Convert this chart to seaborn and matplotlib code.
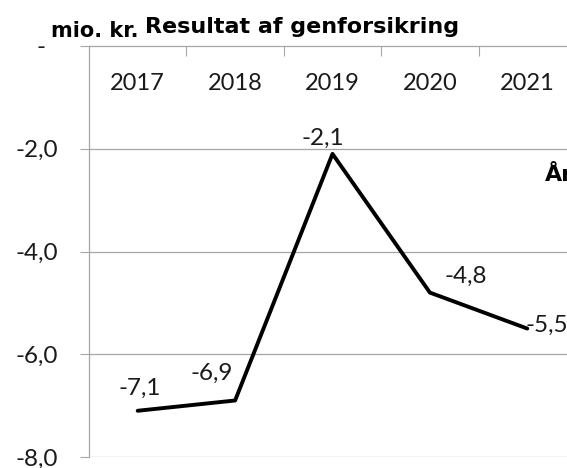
import matplotlib
matplotlib.use("Agg")
import matplotlib.pyplot as plt
import matplotlib.transforms as mtransforms
import seaborn as sns
import pandas as pd

# data
years = ["2017", "2018", "2019", "2020", "2021"]
resultat = [-7.1, -6.9, -2.1, -4.8, -5.5]
yticks = [0, -2, -4, -6, -8]
ytick_labels = ["-  ", "-2,0", "-4,0", "-6,0", "-8,0"]

df = pd.DataFrame({"År": years, "Resultat": resultat})

sns.set_theme(style="white")
plt.rcParams["font.family"] = ["Lato", "DejaVu Sans"]
txt_col = "#1a1a1a"
grid_col = "#a6a6a6"

fig = plt.figure(figsize=(5.67, 4.68), dpi=100)
ax = fig.add_axes([89 / 567, 1 - 457 / 468, 487 / 567, 411 / 468])

sns.lineplot(data=df, x="År", y="Resultat", color="black", linewidth=2.8, ax=ax, sort=False)

ax.set_xlim(-0.5, 4.5)
ax.set_ylim(-8, 0)
ax.set_yticks(yticks)
ax.set_yticklabels(ytick_labels, fontsize=17.5, color=txt_col)
ax.tick_params(axis="y", length=6.5, width=0.8, color=grid_col, pad=15.5, left=True)

# gridlines
for v in yticks[1:]:
    ax.axhline(v, color=grid_col, linewidth=0.9, zorder=0)

# category axis sits at the 0 line, tick marks between the years
ax.set_xticks([0.5, 1.5, 2.5, 3.5])
ax.set_xticklabels([])
ax.xaxis.tick_top()
ax.tick_params(axis="x", direction="in", length=7.5, width=0.8, color=grid_col, top=True, bottom=False)
ax.set_xlabel("")
ax.set_ylabel("")

trans = mtransforms.blended_transform_factory(ax.transData, ax.transAxes)
for i, yr in enumerate(years):
    ax.text(i, 0.908, yr, transform=trans, ha="center", va="center", fontsize=17, color=txt_col)

for s in ["right", "bottom"]:
    ax.spines[s].set_visible(False)
for s in ["left", "top"]:
    ax.spines[s].set_color(grid_col)
    ax.spines[s].set_linewidth(0.9)

# data labels
offsets = [(1.5, 16.5), (-16.5, 19.5), (-7, 11), (26, 12), (-1, 2)]
for i, (v, off) in enumerate(zip(resultat, offsets)):
    lab = f"{v:.1f}".replace(".", ",")
    ha = "left" if i == len(resultat) - 1 else "center"
    ax.annotate(lab, (i, v), xytext=off, textcoords="offset points",
                ha=ha, va="center", fontsize=17.5, color=txt_col)

bold = dict(family="DejaVu Sans", fontweight="bold", color="black")
fig.text(51 / 567, 1 - 37 / 468, "mio. kr.", fontsize=15, ha="left", va="baseline", **bold)
fig.text(145 / 567, 1 - 33 / 468, "Resultat af genforsikring", fontsize=16,
         ha="left", va="baseline", **bold)
fig.text(545 / 567, 1 - 175 / 468, "År", fontsize=16, ha="left", va="center", **bold)

fig.savefig("out.png", dpi=100)
